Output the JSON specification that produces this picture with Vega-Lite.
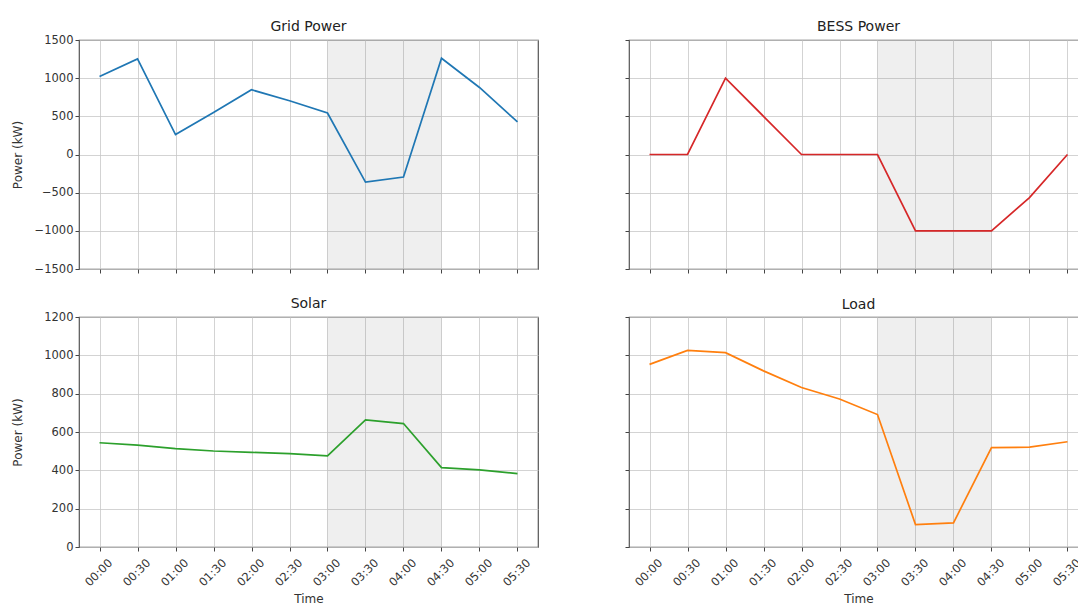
{
  "$schema": "https://vega.github.io/schema/vega-lite/v6.json",
  "padding": {"left": 10, "top": 18, "right": 0, "bottom": 0},
  "background": "white",
  "datasets": {
    "power": [
      {"time": "2024-01-01T00:00:00", "grid": 1022, "bess": 0, "solar": 544, "load": 953},
      {"time": "2024-01-01T00:30:00", "grid": 1252, "bess": 0, "solar": 532, "load": 1026},
      {"time": "2024-01-01T01:00:00", "grid": 261, "bess": 1000, "solar": 513, "load": 1014},
      {"time": "2024-01-01T01:30:00", "grid": 550, "bess": 500, "solar": 501, "load": 919},
      {"time": "2024-01-01T02:00:00", "grid": 848, "bess": 0, "solar": 494, "load": 832},
      {"time": "2024-01-01T02:30:00", "grid": 704, "bess": 0, "solar": 487, "load": 772},
      {"time": "2024-01-01T03:00:00", "grid": 543, "bess": 0, "solar": 475, "load": 691},
      {"time": "2024-01-01T03:30:00", "grid": -361, "bess": -1000, "solar": 663, "load": 117},
      {"time": "2024-01-01T04:00:00", "grid": -296, "bess": -1000, "solar": 644, "load": 126},
      {"time": "2024-01-01T04:30:00", "grid": 1261, "bess": -1000, "solar": 414, "load": 518},
      {"time": "2024-01-01T05:00:00", "grid": 878, "bess": -565, "solar": 402, "load": 521},
      {"time": "2024-01-01T05:30:00", "grid": 426, "bess": 0, "solar": 383, "load": 549}
    ],
    "shade": [
      {"start": "2024-01-01T03:00:00", "end": "2024-01-01T04:30:00"}
    ]
  },
  "config": {
    "font": "DejaVu Sans",
    "view": {"stroke": "#555555", "strokeWidth": 1.2},
    "axis": {
      "grid": true,
      "gridColor": "#c8c8c8",
      "gridWidth": 0.8,
      "domain": false,
      "tickColor": "#444444",
      "tickSize": 4,
      "labelFont": "DejaVu Sans",
      "labelFontSize": 11.5,
      "labelColor": "#333333",
      "titleFont": "DejaVu Sans",
      "titleFontSize": 12,
      "titleFontWeight": "normal",
      "titleColor": "#333333"
    },
    "axisX": {
      "values": [
        {"year": 2024, "month": 1, "date": 1, "hours": 0, "minutes": 0},
        {"year": 2024, "month": 1, "date": 1, "hours": 0, "minutes": 30},
        {"year": 2024, "month": 1, "date": 1, "hours": 1, "minutes": 0},
        {"year": 2024, "month": 1, "date": 1, "hours": 1, "minutes": 30},
        {"year": 2024, "month": 1, "date": 1, "hours": 2, "minutes": 0},
        {"year": 2024, "month": 1, "date": 1, "hours": 2, "minutes": 30},
        {"year": 2024, "month": 1, "date": 1, "hours": 3, "minutes": 0},
        {"year": 2024, "month": 1, "date": 1, "hours": 3, "minutes": 30},
        {"year": 2024, "month": 1, "date": 1, "hours": 4, "minutes": 0},
        {"year": 2024, "month": 1, "date": 1, "hours": 4, "minutes": 30},
        {"year": 2024, "month": 1, "date": 1, "hours": 5, "minutes": 0},
        {"year": 2024, "month": 1, "date": 1, "hours": 5, "minutes": 30}
      ]
    },
    "title": {"font": "DejaVu Sans", "fontSize": 14, "fontWeight": "normal", "color": "#222222", "frame": "group"}
  },
  "columns": 2,
  "spacing": {"row": 48, "column": 91},
  "bounds": "flush",
  "concat": [
    {
      "width": 459, "height": 229,
      "title": {"text": "Grid Power", "offset": 0},
      "layer": [
        {
          "data": {"name": "shade"},
          "mark": {"type": "rect", "color": "#808080", "opacity": 0.13},
          "encoding": {
            "x": {"field": "start", "type": "temporal",
              "scale": {"domain": [{"year": 2023, "month": 12, "date": 31, "hours": 23, "minutes": 43, "seconds": 48}, {"year": 2024, "month": 1, "date": 1, "hours": 5, "minutes": 46, "seconds": 12}]},
              "axis": {"labels": false, "title": null}},
            "x2": {"field": "end"}
          }
        },
        {
          "data": {"name": "power"},
          "mark": {"type": "line", "color": "#1f77b4", "strokeWidth": 1.7},
          "encoding": {
            "x": {"field": "time", "type": "temporal"},
            "y": {"field": "grid", "type": "quantitative",
              "scale": {"domain": [-1500, 1500], "nice": false, "zero": false},
              "axis": {"values": [-1500, -1000, -500, 0, 500, 1000, 1500], "format": "d", "labelPadding": 2, "title": "Power (kW)", "titleX": -62, "titleBaseline": "middle"}}
          }
        }
      ]
    },
    {
      "width": 459, "height": 229,
      "title": {"text": "BESS Power", "offset": 6},
      "layer": [
        {
          "data": {"name": "shade"},
          "mark": {"type": "rect", "color": "#808080", "opacity": 0.13},
          "encoding": {
            "x": {"field": "start", "type": "temporal",
              "scale": {"domain": [{"year": 2023, "month": 12, "date": 31, "hours": 23, "minutes": 43, "seconds": 48}, {"year": 2024, "month": 1, "date": 1, "hours": 5, "minutes": 46, "seconds": 12}]},
              "axis": {"labels": false, "title": null}},
            "x2": {"field": "end"}
          }
        },
        {
          "data": {"name": "power"},
          "mark": {"type": "line", "color": "#d62728", "strokeWidth": 1.7},
          "encoding": {
            "x": {"field": "time", "type": "temporal"},
            "y": {"field": "bess", "type": "quantitative",
              "scale": {"domain": [-1500, 1500], "nice": false, "zero": false},
              "axis": {"values": [-1500, -1000, -500, 0, 500, 1000, 1500], "labels": false, "title": null}}
          }
        }
      ]
    },
    {
      "width": 459, "height": 230,
      "title": {"text": "Solar", "offset": 0},
      "layer": [
        {
          "data": {"name": "shade"},
          "mark": {"type": "rect", "color": "#808080", "opacity": 0.13},
          "encoding": {
            "x": {"field": "start", "type": "temporal",
              "scale": {"domain": [{"year": 2023, "month": 12, "date": 31, "hours": 23, "minutes": 43, "seconds": 48}, {"year": 2024, "month": 1, "date": 1, "hours": 5, "minutes": 46, "seconds": 12}]},
              "axis": {"format": "%H:%M", "labelAngle": -45, "labelAlign": "right", "labelBaseline": "middle", "labelPadding": 10, "labelOffset": 11, "title": "Time", "titleY": 51, "titleBaseline": "middle"}},
            "x2": {"field": "end"}
          }
        },
        {
          "data": {"name": "power"},
          "mark": {"type": "line", "color": "#2ca02c", "strokeWidth": 1.7},
          "encoding": {
            "x": {"field": "time", "type": "temporal"},
            "y": {"field": "solar", "type": "quantitative",
              "scale": {"domain": [0, 1200], "nice": false},
              "axis": {"values": [0, 200, 400, 600, 800, 1000, 1200], "format": "d", "labelPadding": 2, "title": "Power (kW)", "titleX": -62, "titleBaseline": "middle"}}
          }
        }
      ]
    },
    {
      "width": 459, "height": 230,
      "title": {"text": "Load", "offset": 5},
      "layer": [
        {
          "data": {"name": "shade"},
          "mark": {"type": "rect", "color": "#808080", "opacity": 0.13},
          "encoding": {
            "x": {"field": "start", "type": "temporal",
              "scale": {"domain": [{"year": 2023, "month": 12, "date": 31, "hours": 23, "minutes": 43, "seconds": 48}, {"year": 2024, "month": 1, "date": 1, "hours": 5, "minutes": 46, "seconds": 12}]},
              "axis": {"format": "%H:%M", "labelAngle": -45, "labelAlign": "right", "labelBaseline": "middle", "labelPadding": 10, "labelOffset": 11, "title": "Time", "titleY": 51, "titleBaseline": "middle"}},
            "x2": {"field": "end"}
          }
        },
        {
          "data": {"name": "power"},
          "mark": {"type": "line", "color": "#ff7f0e", "strokeWidth": 1.7},
          "encoding": {
            "x": {"field": "time", "type": "temporal"},
            "y": {"field": "load", "type": "quantitative",
              "scale": {"domain": [0, 1200], "nice": false},
              "axis": {"values": [0, 200, 400, 600, 800, 1000, 1200], "labels": false, "title": null}}
          }
        }
      ]
    }
  ]
}
